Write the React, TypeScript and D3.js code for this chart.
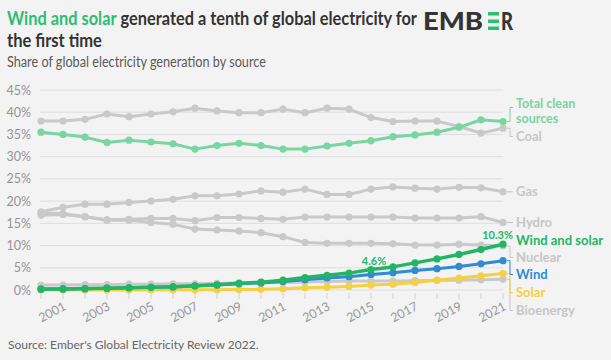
import * as d3 from 'd3';
import { useEffect, useRef } from 'react';

const years = d3.range(2000, 2022);
const tickYears = [2001, 2003, 2005, 2007, 2009, 2011, 2013, 2015, 2017, 2019, 2021];
const yTicks = [0, 5, 10, 15, 20, 25, 30, 35, 40, 45];

const coal = [38.0, 38.0, 38.4, 39.6, 39.0, 39.6, 40.1, 40.9, 40.3, 39.9, 39.9, 40.7, 39.9, 40.9, 40.7, 38.8, 37.9, 38.0, 38.0, 36.8, 35.3, 36.4];
const clean = [35.5, 35.0, 34.4, 33.2, 33.7, 33.3, 32.9, 31.7, 32.5, 33.0, 32.5, 31.7, 31.7, 32.4, 33.0, 33.6, 34.5, 34.9, 35.5, 36.6, 38.3, 37.9];
const gas = [17.6, 18.6, 19.3, 19.3, 19.7, 20.0, 20.4, 21.2, 21.2, 21.6, 22.3, 22.0, 22.7, 21.5, 21.5, 22.7, 23.2, 22.9, 22.7, 23.1, 23.0, 22.1];
const hydro = [17.3, 17.2, 16.5, 15.8, 15.9, 16.1, 16.1, 15.6, 16.3, 16.3, 16.1, 15.9, 16.4, 16.4, 16.4, 16.4, 16.4, 16.2, 16.2, 16.2, 16.5, 15.2];
const nuclear = [16.8, 17.0, 16.5, 15.7, 15.7, 15.2, 14.8, 13.7, 13.5, 13.3, 12.9, 12.0, 10.7, 10.5, 10.5, 10.5, 10.4, 10.1, 10.1, 10.3, 10.1, 9.9];
const bioenergy = [1.1, 1.1, 1.2, 1.2, 1.3, 1.3, 1.4, 1.4, 1.5, 1.6, 1.7, 1.7, 1.8, 1.9, 2.0, 2.0, 2.0, 2.1, 2.2, 2.2, 2.3, 2.4];
const solar = [0.0, 0.0, 0.01, 0.01, 0.01, 0.02, 0.03, 0.04, 0.06, 0.1, 0.15, 0.3, 0.5, 0.6, 0.8, 1.1, 1.3, 1.7, 2.2, 2.7, 3.2, 3.7];
const wind = [0.2, 0.25, 0.3, 0.4, 0.5, 0.6, 0.7, 0.9, 1.1, 1.4, 1.6, 1.9, 2.3, 2.7, 3.0, 3.5, 3.9, 4.4, 4.8, 5.3, 5.9, 6.6];
const windSolar = [0.2, 0.25, 0.31, 0.41, 0.51, 0.62, 0.73, 0.94, 1.16, 1.5, 1.75, 2.2, 2.8, 3.3, 3.8, 4.6, 5.2, 6.1, 7.0, 8.0, 9.1, 10.3];

const GREY = '#c9c9c9';

// drawing order: greys first, highlighted series last
const series = [
  { name: 'Coal', values: coal, color: GREY, labelColor: '#c6c6c6', labelY: [141] },
  { name: 'Gas', values: gas, color: GREY, labelColor: '#c6c6c6', labelY: [196] },
  { name: 'Hydro', values: hydro, color: GREY, labelColor: '#c6c6c6', labelY: [227] },
  { name: 'Nuclear', values: nuclear, color: GREY, labelColor: '#c6c6c6', labelY: [262] },
  { name: 'Bioenergy', values: bioenergy, color: GREY, labelColor: '#c6c6c6', labelY: [315] },
  { name: 'Total clean|sources', values: clean, color: '#78d6a0', labelColor: '#78d6a0', labelY: [108, 123] },
  { name: 'Solar', values: solar, color: '#f5d040', labelColor: '#f5d040', labelY: [297] },
  { name: 'Wind', values: wind, color: '#2f8bd2', labelColor: '#2f8bd2', labelY: [279] },
  { name: 'Wind and solar', values: windSolar, color: '#22b664', labelColor: '#22b664', labelY: [245] },
];

const callouts = [
  { year: 2015, text: '4.6%', dx: 3, anchor: 'middle' },
  { year: 2021, text: '10.3%', dx: 10, anchor: 'end' },
];

const FONT = 'Lato, "Noto Sans", sans-serif';

// squeeze a text horizontally to a target width (keeps its box honest)
function fitWidth(sel: any, x: number, y: number, target: number) {
  const node = sel.node() as SVGTextElement;
  const natural = node.getComputedTextLength();
  const k = natural > 0 ? target / natural : 1;
  sel.attr('transform', `translate(${x},${y}) scale(${k},1)`);
}

export default function App() {
  const ref = useRef<SVGSVGElement | null>(null);

  useEffect(() => {
    const svg = d3.select(ref.current);
    svg.selectAll('*').remove();

    const w = 611, h = 360;
    svg.append('rect').attr('width', w).attr('height', h).attr('fill', '#f3f3f3');

    const x = d3.scaleLinear().domain([2000, 2021]).range([41, 503]);
    const y = d3.scaleLinear().domain([0, 45]).range([290, 90]);

    // title
    const t1 = svg.append('text')
      .attr('font-family', FONT).attr('font-size', 18).attr('font-weight', 700);
    t1.append('tspan').attr('fill', '#2ebd72').text('Wind and solar');
    t1.append('tspan').attr('fill', '#333').text(' generated a tenth of global electricity for');
    fitWidth(t1, 7, 25, 410);
    const t2 = svg.append('text')
      .attr('font-family', FONT).attr('font-size', 18).attr('font-weight', 700).attr('fill', '#333')
      .text('the first time');
    fitWidth(t2, 7, 47, 95);
    const sub = svg.append('text')
      .attr('font-family', FONT).attr('font-size', 15).attr('fill', '#5a5a5a')
      .text('Share of global electricity generation by source');
    fitWidth(sub, 7, 67, 259);

    // logo
    const logo = svg.append('g').attr('font-family', FONT).attr('font-weight', 900).attr('font-size', 24).attr('fill', '#333');
    const emb = logo.append('text').text('EMB');
    fitWidth(emb, 423, 30, 60);
    [12, 19.5, 26.5].forEach(by => {
      logo.append('rect').attr('x', 488).attr('y', by).attr('width', 11).attr('height', 3.5).attr('fill', '#2ebd72');
    });
    const r = logo.append('text').text('R');
    fitWidth(r, 501, 30, 12);

    // grid + y labels
    const grid = svg.append('g');
    grid.selectAll('line').data(yTicks).enter().append('line')
      .attr('x1', 40).attr('x2', 503)
      .attr('y1', d => y(d)).attr('y2', d => y(d))
      .attr('stroke', '#dedede').attr('stroke-width', 1);
    grid.selectAll('text').data(yTicks).enter().append('text')
      .attr('x', 31).attr('y', d => y(d) + 4.5)
      .attr('text-anchor', 'end')
      .attr('font-family', FONT).attr('font-size', 12.5).attr('fill', '#939393')
      .text(d => `${d}%`);

    // x ticks
    svg.append('g').selectAll('line').data(years).enter().append('line')
      .attr('x1', d => x(d)).attr('x2', d => x(d))
      .attr('y1', 293).attr('y2', 299)
      .attr('stroke', '#d0d0d0').attr('stroke-width', 1);
    svg.append('g').selectAll('text').data(tickYears).enter().append('text')
      .attr('transform', d => `translate(${x(d) + 4}, 309) rotate(-28)`)
      .attr('text-anchor', 'end')
      .attr('font-family', FONT).attr('font-size', 12.5).attr('fill', '#9a9a9a')
      .text(d => d);

    // leaders
    const lastX = x(2021);
    series.forEach(s => {
      const py = y(s.values[s.values.length - 1]);
      if (s.name === 'Wind and solar') return;
      const ly = s.labelY.length > 1 ? (s.labelY[0] + s.labelY[1]) / 2 - 8 : s.labelY[0] - 4.5;
      const d = Math.abs(py - ly) < 3
        ? `M${lastX + 4},${py} H${lastX + 10}`
        : `M${lastX + 4},${py} H${lastX + 7} V${ly} H${lastX + 10}`;
      svg.append('path').attr('d', d).attr('fill', 'none')
        .attr('stroke', s.color === GREY ? '#c4c4c4' : s.color).attr('stroke-width', 1);
    });

    // lines
    const line = d3.line<number>().x((_, i) => x(years[i])).y(d => y(d));
    series.forEach(s => {
      const g = svg.append('g');
      g.append('path').datum(s.values).attr('d', line)
        .attr('fill', 'none').attr('stroke', s.color)
        .attr('stroke-width', s.name === 'Wind and solar' ? 3.5 : 3)
        .attr('stroke-linejoin', 'round');
      g.selectAll('circle').data(s.values).enter().append('circle')
        .attr('cx', (_, i) => x(years[i])).attr('cy', d => y(d))
        .attr('r', 3.6).attr('fill', s.color);
      const parts = s.name.split('|');
      parts.forEach((part, i) => {
        g.append('text').attr('x', lastX + 13).attr('y', s.labelY[i])
          .attr('font-family', FONT).attr('font-size', parts.length > 1 ? 12.5 : 13).attr('font-weight', 700)
          .attr('fill', s.labelColor)
          .text(part);
      });
    });

    // callouts on wind and solar
    svg.append('g').selectAll('text').data(callouts).enter().append('text')
      .attr('x', d => x(d.year) + d.dx)
      .attr('y', d => y(windSolar[years.indexOf(d.year)]) - 5)
      .attr('text-anchor', d => d.anchor)
      .attr('font-family', FONT).attr('font-size', 11).attr('font-weight', 700)
      .attr('fill', '#22b664')
      .text(d => d.text);

    // source
    svg.append('text').attr('x', 8).attr('y', 349)
      .attr('font-family', FONT).attr('font-size', 12).attr('fill', '#666')
      .text("Source: Ember's Global Electricity Review 2022.");
  }, []);

  return (
    <div style={{ position: 'fixed', left: 0, top: 0, width: 611, height: 360 }}>
      <svg ref={ref} width={611} height={360} style={{ display: 'block' }} />
    </div>
  );
}
